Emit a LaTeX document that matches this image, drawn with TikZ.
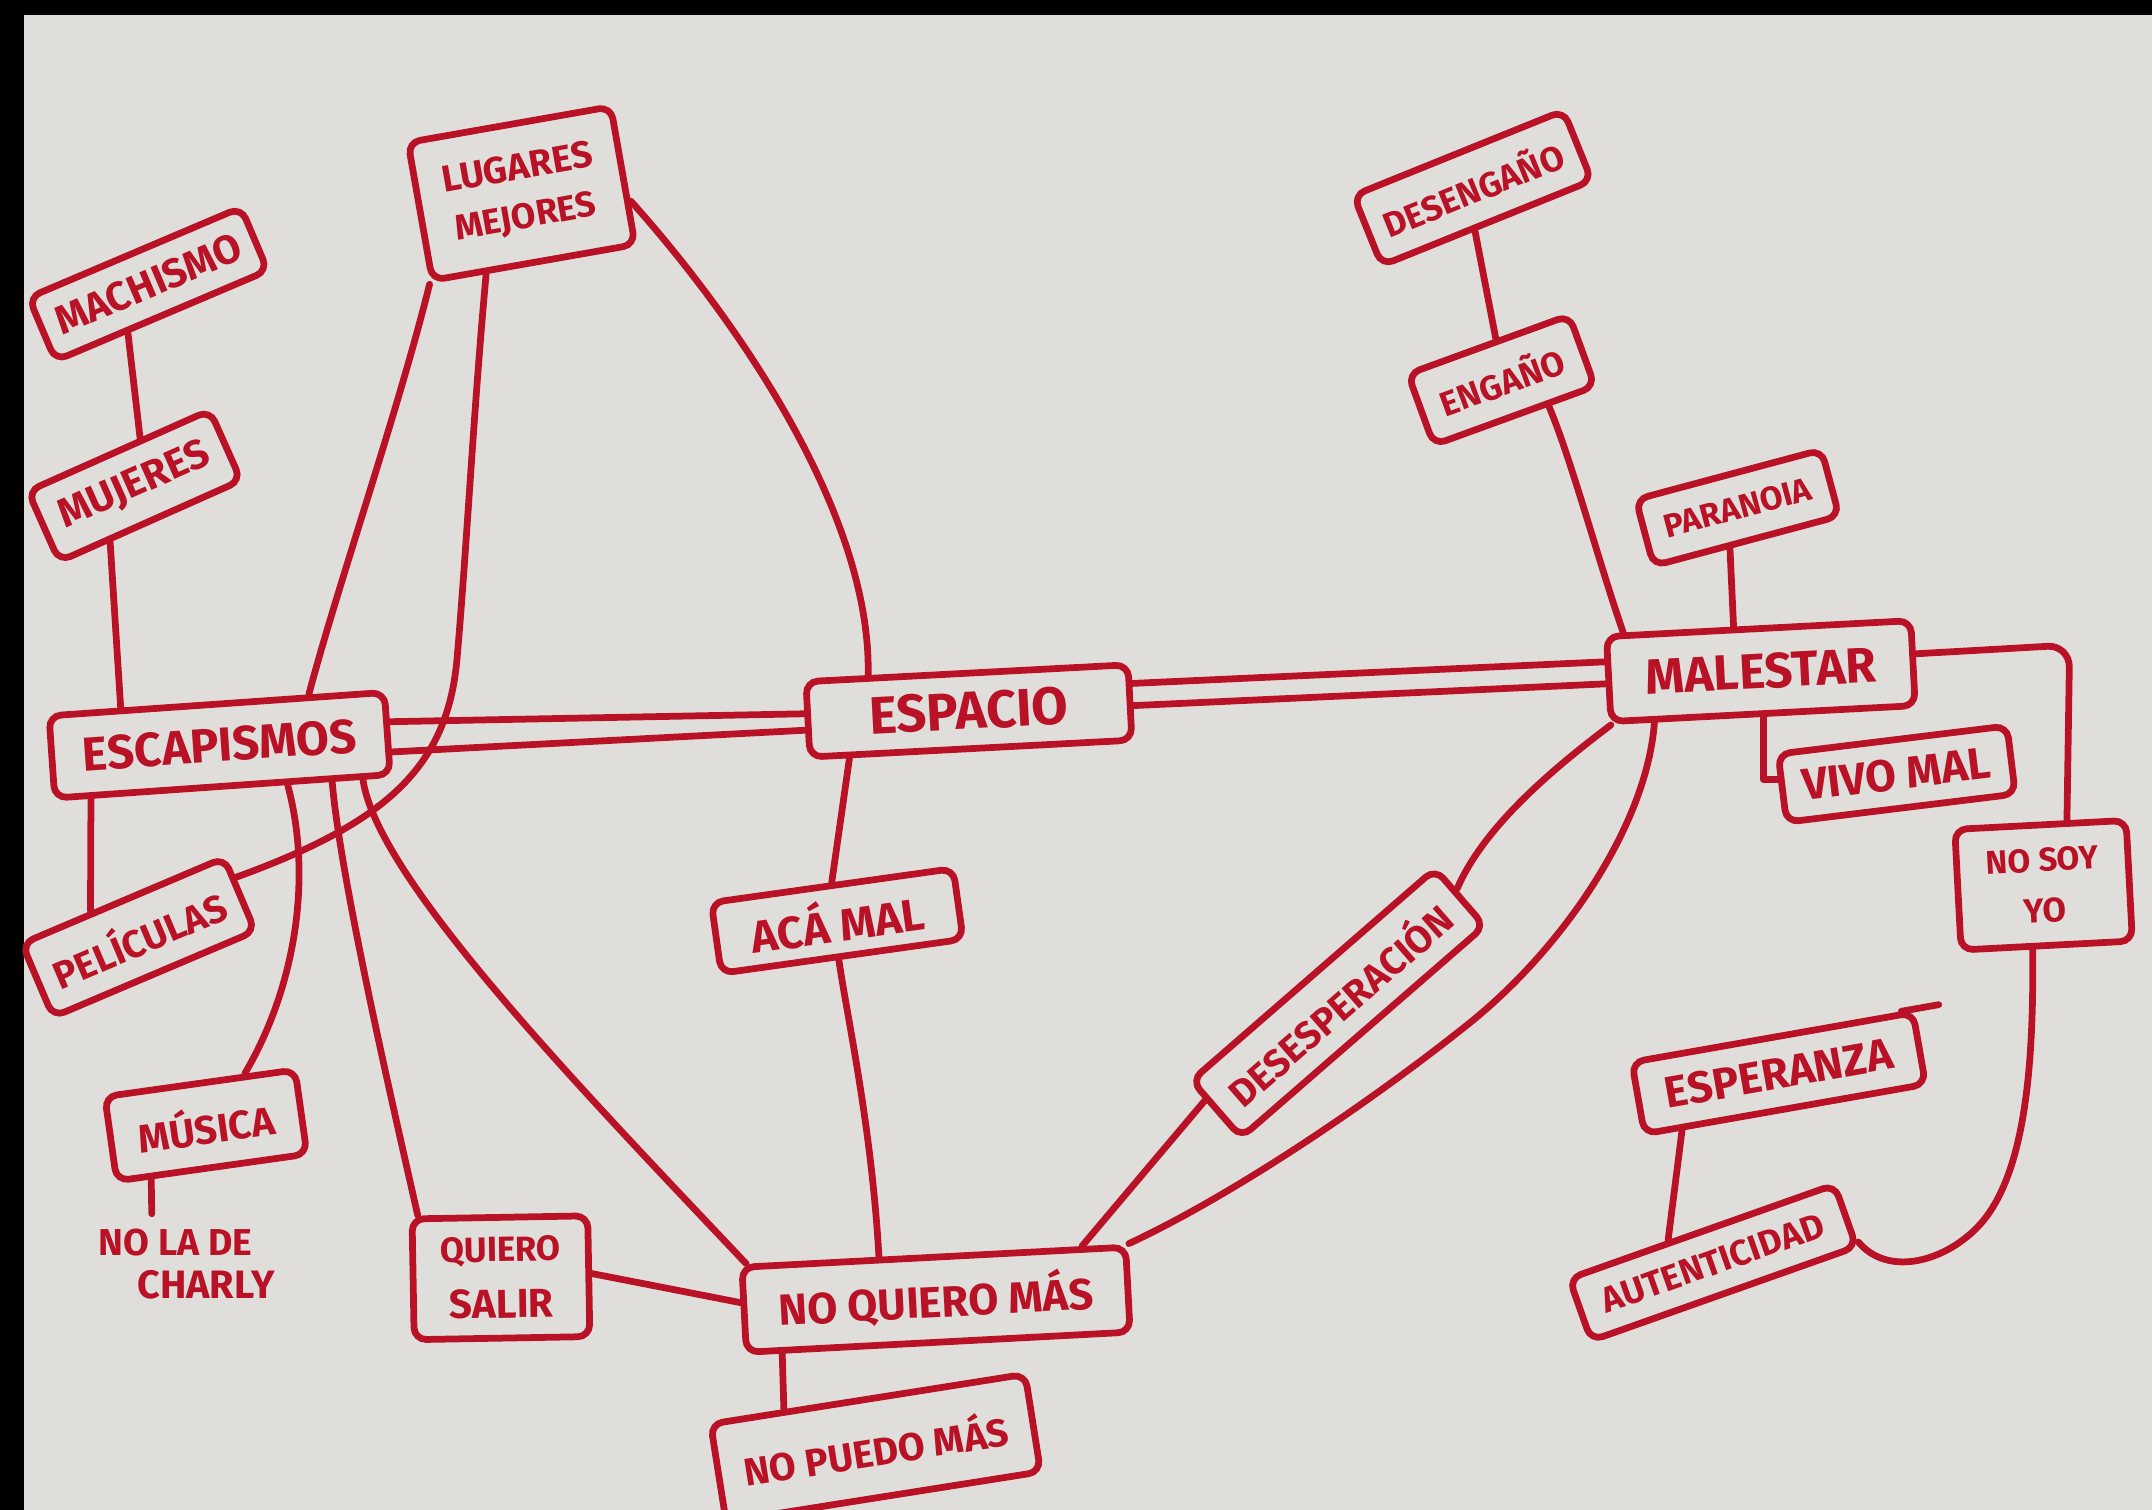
\documentclass[tikz,border=0pt]{standalone}
\usepackage{fontspec}
\setmainfont{Fira Sans}
\usepackage{graphicx}
\usetikzlibrary{calc}
\definecolor{ink}{RGB}{185,18,38}
\definecolor{paper}{RGB}{224,222,219}
\newcommand\sizedtext[2]{\resizebox{#1mm}{!}{#2}}
\begin{document}
\begin{tikzpicture}[x=0.1mm,y=-0.1mm,
  box/.style={draw=ink, line width=1.4pt, rounded corners=2.5pt, inner sep=0pt, text=ink, align=center, font=\bfseries},
  con/.style={draw=ink, line width=1.4pt, line cap=round, line join=round}]
\useasboundingbox (0,0) rectangle (1568,1100.2);
\fill[black] (0,0) rectangle (1568,1100.2);
\fill[paper] (17.5,11) rectangle (1568,1100.2);

% ---------- nodes ----------
\node[box, minimum width=15mm, minimum height=10.2mm, rotate=10, font=\bfseries\fontsize{8}{10.2}\selectfont] (lug) at (380,141) {\sizedtext{11.1}{LUGARES}\\\sizedtext{10.4}{MEJORES}};
\node[box, minimum width=16.8mm, minimum height=5mm, rotate=23] (mach) at (108,207) {\sizedtext{14.5}{MACHISMO}};
\node[box, minimum width=14.5mm, minimum height=5.6mm, rotate=24] (muj) at (98,354) {\sizedtext{11.8}{MUJERES}};
\node[box, minimum width=24.5mm, minimum height=6mm, rotate=4] (esc) at (160,543) {\sizedtext{20}{ESCAPISMOS}};
\node[box, minimum width=16mm, minimum height=5.8mm, rotate=23] (pel) at (101,683) {\sizedtext{13.5}{PELÍCULAS}};
\node[box, minimum width=14mm, minimum height=6.2mm, rotate=8] (mus) at (150,820) {\sizedtext{10}{MÚSICA}};
\node[text=ink, font=\bfseries\fontsize{8}{9.1}\selectfont, align=left, inner sep=1mm] (cly) at (136,921) {\sizedtext{11.2}{NO LA DE}\\\hspace*{2.8mm}\sizedtext{10}{CHARLY}};
\node[box, minimum width=12.8mm, minimum height=8.8mm, rotate=1, font=\bfseries\fontsize{8}{11.7}\selectfont] (qs) at (365,931) {\sizedtext{8.8}{QUIERO}\\\sizedtext{7.6}{SALIR}};
\node[box, minimum width=28mm, minimum height=6.2mm, rotate=3] (nqm) at (682,947) {\sizedtext{23}{NO QUIERO MÁS}};
\node[box, minimum width=23.2mm, minimum height=7.2mm, rotate=9] (npm) at (638,1055) {\sizedtext{19.5}{NO PUEDO MÁS}};
\node[box, minimum width=17.8mm, minimum height=5.2mm, rotate=8] (acm) at (610,671) {\sizedtext{12.7}{ACÁ MAL}};
\node[box, minimum width=23.5mm, minimum height=5.5mm, rotate=3] (esp) at (706,518) {\sizedtext{14.5}{ESPACIO}};
\node[box, minimum width=22.2mm, minimum height=6.2mm, rotate=3] (mal) at (1283,489) {\sizedtext{16.8}{MALESTAR}};
\node[box, minimum width=16.8mm, minimum height=5mm, rotate=7] (vm) at (1382,564) {\sizedtext{13.8}{VIVO MAL}};
\node[box, minimum width=12.5mm, minimum height=8.8mm, rotate=3, font=\bfseries\fontsize{8}{10.5}\selectfont] (nsy) at (1489,645) {\sizedtext{8.2}{NO SOY}\\\sizedtext{3.1}{YO}};
\node[box, minimum width=20.8mm, minimum height=5.3mm, rotate=10] (esz) at (1296,782) {\sizedtext{16.8}{ESPERANZA}};
\node[box, minimum width=20.5mm, minimum height=4.8mm, rotate=19.5] (aut) at (1248,920) {\sizedtext{17}{AUTENTICIDAD}};
\node[box, minimum width=23.5mm, minimum height=5.5mm, rotate=41] (des) at (975,731) {\sizedtext{20.6}{DESESPERACIÓN}};
\node[box, minimum width=12.5mm, minimum height=5.5mm, rotate=20] (eng) at (1094,277) {\sizedtext{9.5}{ENGAÑO}};
\node[box, minimum width=16.5mm, minimum height=5.5mm, rotate=22] (deseng) at (1073,137) {\sizedtext{14}{DESENGAÑO}};
\node[box, minimum width=14mm, minimum height=5mm, rotate=15] (par) at (1266,370) {\sizedtext{11}{PARANOIA}};

% ---------- connectors ----------
\draw[con] ($(mach.south west)!0.34!(mach.south east)$) -- ($(muj.north west)!0.62!(muj.north east)$);
\draw[con] ($(muj.south west)!0.28!(muj.south east)$) -- ($(esc.north west)!0.22!(esc.north east)$);
\draw[con] ($(esc.south west)!0.115!(esc.south east)$) -- ($(pel.north west)!0.35!(pel.north east)$);
\draw[con] ($(lug.south west)!0.0!(lug.south east)$) .. controls (290,300) and (245,430) .. ($(esc.north west)!0.77!(esc.north east)$);
\draw[con] ($(lug.south west)!0.27!(lug.south east)$) .. controls (345,300) and (340,400) .. (333,480) .. controls (326,560) and (280,600) .. ($(pel.north east)!0.3!(pel.south east)$);
\draw[con] ($(lug.north east)!0.68!(lug.south east)$) .. controls (530,225) and (635,370) .. ($(esp.north west)!0.2!(esp.north east)$);
\draw[con] ($(esc.north east)!0.37!(esc.south east)$) -- ($(esp.north west)!0.43!(esp.south west)$);
\draw[con] ($(esc.north east)!0.71!(esc.south east)$) -- ($(esp.north west)!0.63!(esp.south west)$);
\draw[con] ($(esp.north east)!0.27!(esp.south east)$) -- ($(mal.north west)!0.31!(mal.south west)$);
\draw[con] ($(esp.north east)!0.54!(esp.south east)$) -- ($(mal.north west)!0.55!(mal.south west)$);
\draw[con] ($(esp.south west)!0.13!(esp.south east)$) -- ($(acm.north west)!0.5!(acm.north east)$);
\draw[con] ($(acm.south west)!0.485!(acm.south east)$) .. controls (617,740) and (635,820) .. ($(nqm.north west)!0.36!(nqm.north east)$);
\draw[con] ($(esc.south west)!0.69!(esc.south east)$) .. controls (228,640) and (215,720) .. ($(mus.north west)!0.73!(mus.north east)$);
\draw[con] ($(esc.south west)!0.82!(esc.south east)$) .. controls (248,640) and (285,800) .. ($(qs.north west)!0.05!(qs.north east)$);
\draw[con] ($(esc.south west)!0.91!(esc.south east)$) .. controls (275,640) and (420,790) .. ($(nqm.north west)!0.02!(nqm.north east)$);
\draw[con] ($(qs.north east)!0.48!(qs.south east)$) -- ($(nqm.north west)!0.42!(nqm.south west)$);
\draw[con] ($(nqm.south west)!0.10!(nqm.south east)$) -- ($(npm.north west)!0.24!(npm.north east)$);
\draw[con] ($(mus.south west)!0.19!(mus.south east)$) -- ($(cly.north west)!0.33!(cly.north east)$);
\draw[con] ($(des.north west)!0.33!(des.south west)$) -- ($(nqm.north west)!0.88!(nqm.north east)$);
\draw[con] ($(mal.south west)!0.01!(mal.south east)$) .. controls (1125,565) and (1080,605) .. ($(des.north east)!0.4!(des.south east)$);
\draw[con] ($(mal.south west)!0.15!(mal.south east)$) .. controls (1200,600) and (1140,690) .. (1070,746) .. controls (1000,802) and (900,870) .. (nqm.north east);
\draw[con] ($(deseng.south west)!0.44!(deseng.south east)$) -- ($(eng.north west)!0.55!(eng.north east)$);
\draw[con] ($(eng.south west)!0.70!(eng.south east)$) .. controls (1145,335) and (1165,410) .. ($(mal.north west)!0.065!(mal.north east)$);
\draw[con] ($(par.south west)!0.41!(par.south east)$) -- ($(mal.north west)!0.42!(mal.north east)$);
\draw[con] ($(mal.south west)!0.5!(mal.south east)$) |- ($(vm.north west)!0.375!(vm.south west)$);
\draw[con, rounded corners=1.6mm] ($(mal.north east)!0.4!(mal.south east)$) -- (1508,470) -- ($(nsy.north west)!0.65!(nsy.north east)$);
\draw[con] ($(nsy.south west)!0.42!(nsy.south east)$) .. controls (1482,780) and (1475,860) .. (1440,895) .. controls (1415,920) and (1375,930) .. ($(aut.north east)!0.9!(aut.south east)$);
\draw[con] ($(esz.south west)!0.14!(esz.south east)$) -- ($(aut.north west)!0.38!(aut.north east)$);
\draw[con] ($(esz.north west)!0.95!(esz.north east)$) -- ($(esz.north west)!1.08!(esz.north east)$);
\end{tikzpicture}
\end{document}
